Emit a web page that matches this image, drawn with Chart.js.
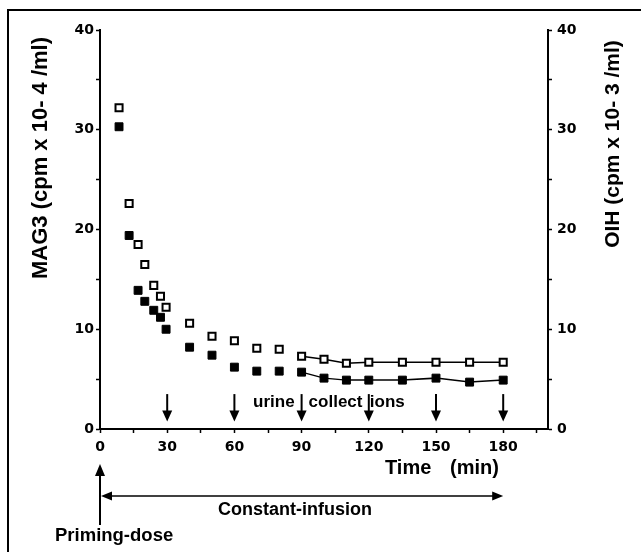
<!DOCTYPE html>
<html><head><meta charset="utf-8">
<script src="https://cdn.jsdelivr.net/npm/chart.js@4/dist/chart.umd.min.js"></script>
<style>html,body{margin:0;padding:0;background:#fff;}#wrap{width:641px;height:552px;position:relative;}canvas{display:block;}</style>
</head><body><div id="wrap"><canvas id="c" width="641" height="552" style="width:641px;height:552px"></canvas></div>
<script>
// ---- data ----
const times = [8.5, 13, 17, 20, 24, 27, 29.5, 40, 50, 60, 70, 80, 90, 100, 110, 120, 135, 150, 165, 180];
const mag3Values = [30.3, 19.4, 13.9, 12.8, 11.9, 11.2, 10.0, 8.2, 7.4, 6.2, 5.8, 5.8, 5.7, 5.1, 4.9, 4.9, 4.9, 5.1, 4.7, 4.9];
const oihValues  = [32.2, 22.6, 18.5, 16.5, 14.4, 13.3, 12.2, 10.6, 9.3, 8.85, 8.1, 8.0, 7.3, 7.0, 6.6, 6.7, 6.7, 6.7, 6.7, 6.7];
const lineStartTime = 90;              // points are joined from this time on
const collectTimes = [30, 60, 90, 120, 150, 180];
const xTickLabels = [0, 30, 60, 90, 120, 150, 180];
const yTickLabels = [0, 10, 20, 30, 40];
const leftTitle = 'MAG3 (cpm x 10- 4 /ml)';
const rightTitle = 'OIH (cpm x 10- 3 /ml)';
const xTitleA = 'Time', xTitleB = '(min)';

const toPts = vals => times.map((t, i) => ({x: t, y: vals[i]}));
const seg = {borderColor: c => (c.p0.parsed.x < lineStartTime ? 'rgba(0,0,0,0)' : '#000')};

const TICKFONT = {family: 'DejaVu Sans', weight: 'bold', size: 14};
const BOLD = '"Liberation Sans", Arial, sans-serif';

function arrowDown(ctx, x, y0, y1) {
  ctx.beginPath(); ctx.moveTo(x, y0); ctx.lineTo(x, y1 - 9); ctx.stroke();
  ctx.beginPath(); ctx.moveTo(x - 5, y1 - 11); ctx.lineTo(x + 5, y1 - 11); ctx.lineTo(x, y1); ctx.closePath(); ctx.fill();
}

const annot = {
  id: 'annot',
  afterDraw(chart) {
    const {ctx, scales: {x, y}} = chart;
    ctx.save();
    ctx.strokeStyle = '#000'; ctx.fillStyle = '#000';
    // frame
    ctx.lineWidth = 2;
    ctx.beginPath(); ctx.moveTo(8, 552); ctx.lineTo(8, 10); ctx.lineTo(641, 10); ctx.stroke();
    // urine collection arrows
    ctx.lineWidth = 2;
    collectTimes.forEach(t => arrowDown(ctx, x.getPixelForValue(t), y.getPixelForValue(3.5), y.getPixelForValue(0.75)));
    ctx.font = 'bold 17px ' + BOLD;
    ctx.textBaseline = 'alphabetic';
    const x90 = x.getPixelForValue(90), x120 = x.getPixelForValue(120);
    ctx.textAlign = 'right'; ctx.fillText('urine', x90 - 7, 407);
    ctx.textAlign = 'left'; ctx.fillText('collect', x90 + 7, 407);
    ctx.fillText('ions', x120 + 1, 407);
    // x title
    ctx.font = 'bold 20px ' + BOLD;
    ctx.textAlign = 'left'; ctx.fillText(xTitleA, 385, 474);
    ctx.textAlign = 'right'; ctx.fillText(xTitleB, 499, 474);
    // priming-dose arrow
    const x0 = x.getPixelForValue(0), x180 = x.getPixelForValue(180);
    ctx.lineWidth = 2;
    ctx.beginPath(); ctx.moveTo(x0, 525); ctx.lineTo(x0, 472); ctx.stroke();
    ctx.beginPath(); ctx.moveTo(x0 - 5, 476); ctx.lineTo(x0 + 5, 476); ctx.lineTo(x0, 464); ctx.closePath(); ctx.fill();
    // constant-infusion double arrow
    ctx.lineWidth = 1.5;
    ctx.beginPath(); ctx.moveTo(x0 + 6, 496); ctx.lineTo(x180 - 6, 496); ctx.stroke();
    ctx.beginPath(); ctx.moveTo(x0 + 1, 496); ctx.lineTo(x0 + 12, 491.5); ctx.lineTo(x0 + 12, 500.5); ctx.closePath(); ctx.fill();
    ctx.beginPath(); ctx.moveTo(x180, 496); ctx.lineTo(x180 - 11, 491.5); ctx.lineTo(x180 - 11, 500.5); ctx.closePath(); ctx.fill();
    ctx.font = 'bold 18px ' + BOLD;
    ctx.textAlign = 'left';
    ctx.fillText('Constant-infusion', 218, 515);
    ctx.font = 'bold 18.5px ' + BOLD;
    ctx.fillText('Priming-dose', 55, 541);
    // y titles
    ctx.font = 'bold 22px ' + BOLD;
    ctx.textAlign = 'center'; ctx.textBaseline = 'middle';
    ctx.save(); ctx.translate(41, 158); ctx.rotate(-Math.PI / 2); ctx.fillText(leftTitle, 0, 0); ctx.restore();
    ctx.font = 'bold 21px ' + BOLD;
    ctx.save(); ctx.translate(613, 144); ctx.rotate(-Math.PI / 2); ctx.fillText(rightTitle, 0, 0); ctx.restore();
    ctx.restore();
  }
};

const yAxis = (pos, pad, w) => ({
  type: 'linear', position: pos, min: 0, max: 40,
  ticks: {stepSize: 5, autoSkip: false, color: '#000', font: TICKFONT, padding: pad,
          callback: v => (yTickLabels.includes(v) ? String(v) : '')},
  grid: {drawOnChartArea: false, drawTicks: true, tickLength: 4, tickColor: '#000', tickWidth: 1.5},
  border: {display: true, color: '#000', width: 2},
  afterFit: s => { s.width = w; }
});

new Chart(document.getElementById('c'), {
  type: 'scatter',
  data: {
    datasets: [
      {label: 'MAG3', data: toPts(mag3Values), yAxisID: 'y', showLine: true, segment: seg,
       borderColor: '#000', borderWidth: 1.5, pointStyle: 'rect', pointRadius: 5.6,
       pointBackgroundColor: '#000', pointBorderColor: '#000', pointBorderWidth: 1},
      {label: 'OIH', data: toPts(oihValues), yAxisID: 'y2', showLine: true, segment: seg,
       borderColor: '#000', borderWidth: 1.5, pointStyle: 'rect', pointRadius: 5,
       pointBackgroundColor: '#fff', pointBorderColor: '#000', pointBorderWidth: 2}
    ]
  },
  options: {
    responsive: false, maintainAspectRatio: false, animation: false, devicePixelRatio: 1,
    layout: {padding: {top: 30, left: 0, right: 0, bottom: 0}},
    plugins: {legend: {display: false}, tooltip: {enabled: false}},
    scales: {
      x: {type: 'linear', position: 'bottom', min: 0, max: 200,
          ticks: {stepSize: 15, includeBounds: false, autoSkip: false, maxRotation: 0, color: '#000', font: TICKFONT, padding: 6,
                  callback: v => (xTickLabels.includes(v) ? String(v) : '')},
          grid: {drawOnChartArea: false, drawTicks: true, tickLength: 4, tickColor: '#000', tickWidth: 1.5},
          border: {display: true, color: '#000', width: 2},
          afterFit: s => { s.height = 123; }},
      y: yAxis('left', 2, 100),
      y2: yAxis('right', 5, 93)
    }
  },
  plugins: [annot]
});
</script></body></html>
